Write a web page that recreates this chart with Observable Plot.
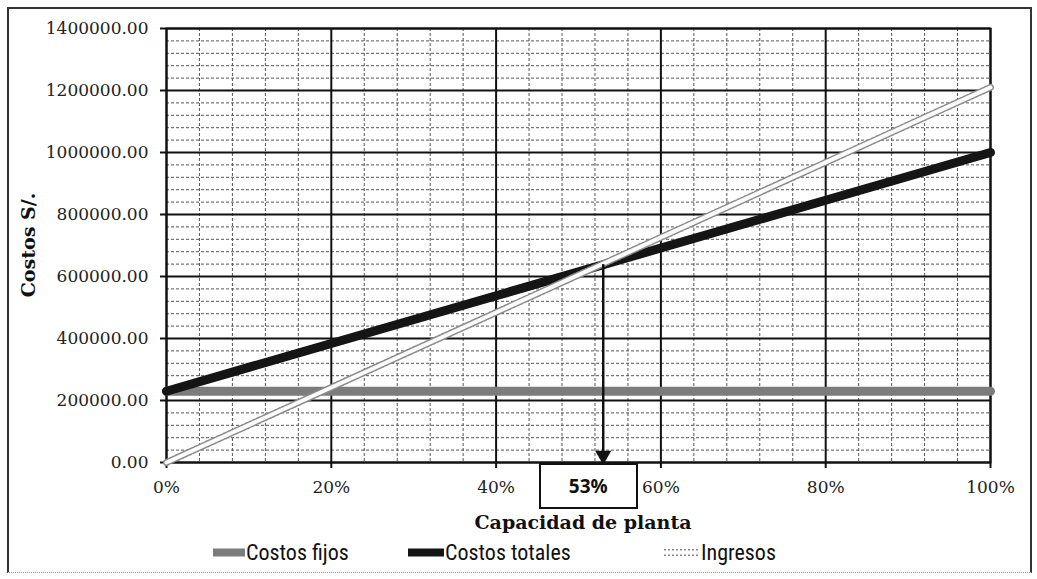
<!DOCTYPE html>
<html><head><meta charset="utf-8">
<script src="https://cdn.jsdelivr.net/npm/d3@7"></script>
<script src="https://cdn.jsdelivr.net/npm/@observablehq/plot@0.6"></script>
<style>
body{margin:0;background:#fff;}
#wrap{position:relative;width:1037px;height:579px;overflow:hidden;background:#fff;}
#border{position:absolute;left:7px;top:7px;width:1025px;height:566px;border:2px solid #333;border-bottom:1px dotted #999;box-sizing:border-box;}
.ov{position:absolute;white-space:nowrap;color:#111;}
#xtitle{font-family:"DejaVu Serif",serif;font-weight:bold;font-size:19px;transform:translate(-50%,-50%);}
#ytitle{font-family:"DejaVu Serif",serif;font-weight:bold;font-size:19px;transform:translate(-50%,-50%) rotate(-90deg);}
#box{border:2px solid #111;background:#fff;font-family:"Open Sans","Liberation Sans",sans-serif;font-weight:bold;font-size:19px;display:flex;align-items:center;justify-content:center;box-sizing:border-box;}
.leg{position:absolute;display:flex;align-items:center;font-family:"Liberation Sans Narrow","Roboto Condensed","Liberation Sans",sans-serif;font-size:22px;color:#111;transform:translateY(-50%);}
.leg svg{margin-right:1px;}
</style></head><body><div id="wrap"><div id="border"></div></div><script>
// ---- data ----
const capacidad = [0, 0.2, 0.4, 0.6, 0.8, 1.0];
const costosFijos = [230000, 230000, 230000, 230000, 230000, 230000];
const costosTotales = [230000, 384000, 538000, 692000, 846000, 1000000];
const ingresos = [0, 242000, 484000, 726000, 968000, 1210000];
const xTicks = [0, 0.2, 0.4, 0.6, 0.8, 1.0];
const xTickLabels = ["0%", "20%", "40%", "60%", "80%", "100%"];
const yTicks = [0, 200000, 400000, 600000, 800000, 1000000, 1200000, 1400000];
const yTickLabels = ["0.00", "200000.00", "400000.00", "600000.00", "800000.00", "1000000.00", "1200000.00", "1400000.00"];
const equilibrioX = [0.53];
const equilibrioY = [640000];
const equilibrioLabel = ["53%"];
const seriesNames = ["Costos fijos", "Costos totales", "Ingresos"];
const xTitle = "Capacidad de planta";
const yTitle = "Costos S/.";

const rows = capacidad.map((c, i) => ({c, fijos: costosFijos[i], totales: costosTotales[i], ingresos: ingresos[i]}));
const eq = equilibrioX.map((x, i) => ({x, y: equilibrioY[i], label: equilibrioLabel[i]}));
const xMinor = d3.range(0, 1.0001, 0.04).filter(v => !xTicks.some(t => Math.abs(t - v) < 1e-6));
const yMinor = d3.range(0, 1400001, 40000).filter(v => !yTicks.includes(v));

const chart = Plot.plot({
  width: 1037, height: 579,
  marginLeft: 166, marginRight: 47, marginTop: 28, marginBottom: 117,
  style: {fontFamily: "DejaVu Serif, serif", fontSize: "17px", color: "#222", background: "transparent"},
  x: {domain: [0, 1]},
  y: {domain: [0, 1400000]},
  marks: [
    Plot.ruleY(yMinor, {stroke: "#555", strokeWidth: 1, strokeDasharray: "3,2"}),
    Plot.ruleX(xMinor, {stroke: "#555", strokeWidth: 1, strokeDasharray: "3,2"}),
    Plot.ruleY(yTicks, {stroke: "#111", strokeWidth: 2}),
    Plot.ruleX(xTicks, {stroke: "#111", strokeWidth: 2}),
    Plot.frame({stroke: "#111", strokeWidth: 2}),
    Plot.axisY({ticks: yTicks, tickFormat: (d) => yTickLabels[yTicks.indexOf(d)], tickSize: 6, tickPadding: 12, label: null, stroke: "#111", strokeWidth: 2}),
    Plot.axisX({ticks: xTicks, tickFormat: (d) => xTickLabels[xTicks.indexOf(d)], tickSize: 6, tickPadding: 12, label: null, stroke: "#111", strokeWidth: 2}),
    Plot.line(rows, {x: "c", y: "fijos", stroke: "#7c7c7c", strokeWidth: 9}),
    Plot.line(rows, {x: "c", y: "totales", stroke: "#151515", strokeWidth: 9}),
    Plot.line(rows, {x: "c", y: "ingresos", stroke: "#8a8a8a", strokeWidth: 7, strokeDasharray: "2,2"}),
    Plot.line(rows, {x: "c", y: "ingresos", stroke: "#fbfbfb", strokeWidth: 4}),
    Plot.link(eq, {x1: "x", x2: "x", y1: "y", y2: () => 0, stroke: "#111", strokeWidth: 2.5}),
    Plot.dot(eq, {x: "x", y: () => 0, symbol: "triangle", r: 6, rotate: 180, fill: "#111", stroke: "none", dy: -7})
  ]
});
const wrap = document.getElementById("wrap");
wrap.appendChild(chart);
chart.style.position = "absolute"; chart.style.left = "0"; chart.style.top = "0";

const sx = chart.scale("x"), sy = chart.scale("y");
function add(id, cls, text, left, top) {
  const d = document.createElement("div");
  if (id) d.id = id;
  d.className = cls; d.textContent = text;
  d.style.left = left + "px"; d.style.top = top + "px";
  wrap.appendChild(d); return d;
}
add("xtitle", "ov", xTitle, (sx.apply(0) + sx.apply(1)) / 2 + 5, 522);
add("ytitle", "ov", yTitle, 28, 245);
const bx = add("box", "ov", eq[0].label, sx.apply(eq[0].x) - 64, sy.apply(0) + 1);
bx.style.width = "99px"; bx.style.height = "46px";

const swatch = [
  '<svg width="32" height="10"><line x1="0" y1="5" x2="32" y2="5" stroke="#7c7c7c" stroke-width="8"/></svg>',
  '<svg width="36" height="10"><line x1="0" y1="5" x2="36" y2="5" stroke="#151515" stroke-width="8"/></svg>',
  '<svg width="36" height="10"><line x1="0" y1="5" x2="36" y2="5" stroke="#8a8a8a" stroke-width="7" stroke-dasharray="2,2"/><line x1="0" y1="5" x2="36" y2="5" stroke="#fbfbfb" stroke-width="4"/></svg>'
];
const legX = [213, 408, 664];
seriesNames.forEach((n, i) => {
  const d = document.createElement("div");
  d.className = "leg";
  d.style.left = legX[i] + "px"; d.style.top = "552px";
  d.innerHTML = swatch[i] + "<span>" + n + "</span>";
  wrap.appendChild(d);
});
</script></body></html>
